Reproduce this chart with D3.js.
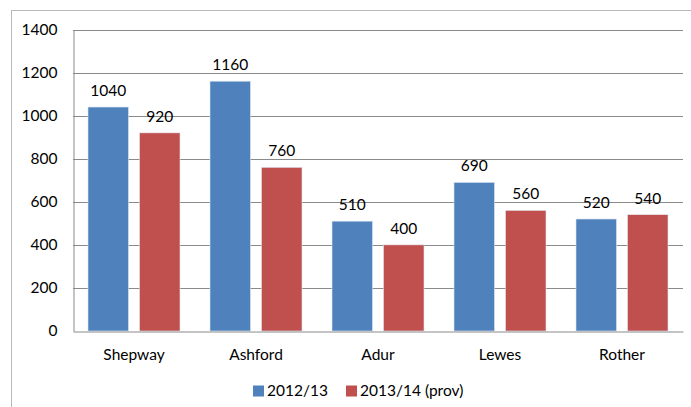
<!DOCTYPE html>
<html>
<head>
<meta charset="utf-8">
<script src="https://cdn.jsdelivr.net/npm/d3@7"></script>
<style>
  html, body { margin: 0; padding: 0; background: #fff; }
</style>
</head>
<body>
<script>
// Data
const districts = ["Shepway", "Ashford", "Adur", "Lewes", "Rother"];
const seriesNames = ["2012/13", "2013/14 (prov)"];
const values2012 = [1040, 1160, 510, 690, 520];
const values2013 = [920, 760, 400, 560, 540];
const yTicks = [0, 200, 400, 600, 800, 1000, 1200, 1400];
const colors = ["#4f81bd", "#c0504d"];

const width = 691;
const height = 407;
const margins = { top: 29.5, right: 8, bottom: 76, left: 73 };
const font = "Lato, 'Open Sans', sans-serif";

const rows = districts.map((d, i) => ({
  district: d,
  vals: [values2012[i], values2013[i]],
}));

// Scales
const xScale = d3
  .scaleBand()
  .domain(districts)
  .range([margins.left, width - margins.right]);

const yScale = d3
  .scaleLinear()
  .domain([0, 1400])
  .range([height - margins.bottom, margins.top]);

const barW = 40.5;
const gap = 11;
const barX = (d, s) =>
  xScale(d) + xScale.bandwidth() / 2 + (s === 0 ? -gap / 2 - barW : gap / 2);

const svg = d3
  .select("body")
  .append("svg")
  .attr("width", width)
  .attr("height", height)
  .style("display", "block");

// Outer chart border (runs past right/bottom edges)
svg
  .append("rect")
  .attr("x", 11.5)
  .attr("y", 10.5)
  .attr("width", width + 20)
  .attr("height", height + 20)
  .attr("fill", "none")
  .attr("stroke", "#b9b9b9");

// Gridlines
svg
  .append("g")
  .selectAll("line")
  .data(yTicks.filter((t) => t > 0))
  .join("line")
  .attr("x1", margins.left)
  .attr("x2", width - margins.right)
  .attr("y1", (d) => Math.round(yScale(d)) + 0.5)
  .attr("y2", (d) => Math.round(yScale(d)) + 0.5)
  .attr("stroke", "#8a8a8a");

// Y axis
const yAxis = d3
  .axisLeft(yScale)
  .tickValues(yTicks)
  .tickFormat(d3.format("d"))
  .tickSize(0)
  .tickPadding(16);
const yG = svg
  .append("g")
  .attr("transform", `translate(${margins.left + 0.5}, 0)`)
  .call(yAxis);
yG.select(".domain").attr("stroke", "#8a8a8a");
yG.selectAll("text")
  .attr("font-family", font)
  .attr("font-size", "15.5px")
  .attr("fill", "#000");

// Bars
const g = svg.append("g").selectAll("g").data(rows).join("g");
[0, 1].forEach((s) => {
  g.append("rect")
    .attr("x", (d) => barX(d.district, s))
    .attr("y", (d) => yScale(d.vals[s]))
    .attr("width", barW)
    .attr("height", (d) => yScale(0) - yScale(d.vals[s]))
    .attr("fill", colors[s])
    .attr("stroke", "#dfe6f0")
    .attr("stroke-width", 0.6);

  // Value labels
  g.append("text")
    .attr("x", (d) => barX(d.district, s) + barW / 2)
    .attr("y", (d) => yScale(d.vals[s]) - 11)
    .attr("text-anchor", "middle")
    .attr("font-family", font)
    .attr("font-size", "15.5px")
    .attr("fill", "#000")
    .text((d) => d.vals[s]);
});

// X axis
const xAxis = d3.axisBottom(xScale).tickSize(0).tickPadding(17);
const xG = svg
  .append("g")
  .attr("transform", `translate(0, ${Math.round(yScale(0)) + 0.5})`)
  .call(xAxis);
xG.select(".domain").attr("stroke", "#8a8a8a");
xG.selectAll("text")
  .attr("font-family", font)
  .attr("font-size", "15.5px")
  .attr("fill", "#000");

// Legend
const legendX = [253, 346];
const legend = svg
  .append("g")
  .selectAll("g")
  .data(seriesNames)
  .join("g")
  .attr("transform", (d, i) => `translate(${legendX[i]}, 385.5)`);
legend
  .append("rect")
  .attr("width", 11)
  .attr("height", 11)
  .attr("fill", (d, i) => colors[i]);
legend
  .append("text")
  .attr("x", 14)
  .attr("y", 10.5)
  .attr("font-family", font)
  .attr("font-size", "15.5px")
  .attr("fill", "#000")
  .text((d) => d);
</script>
</body>
</html>
